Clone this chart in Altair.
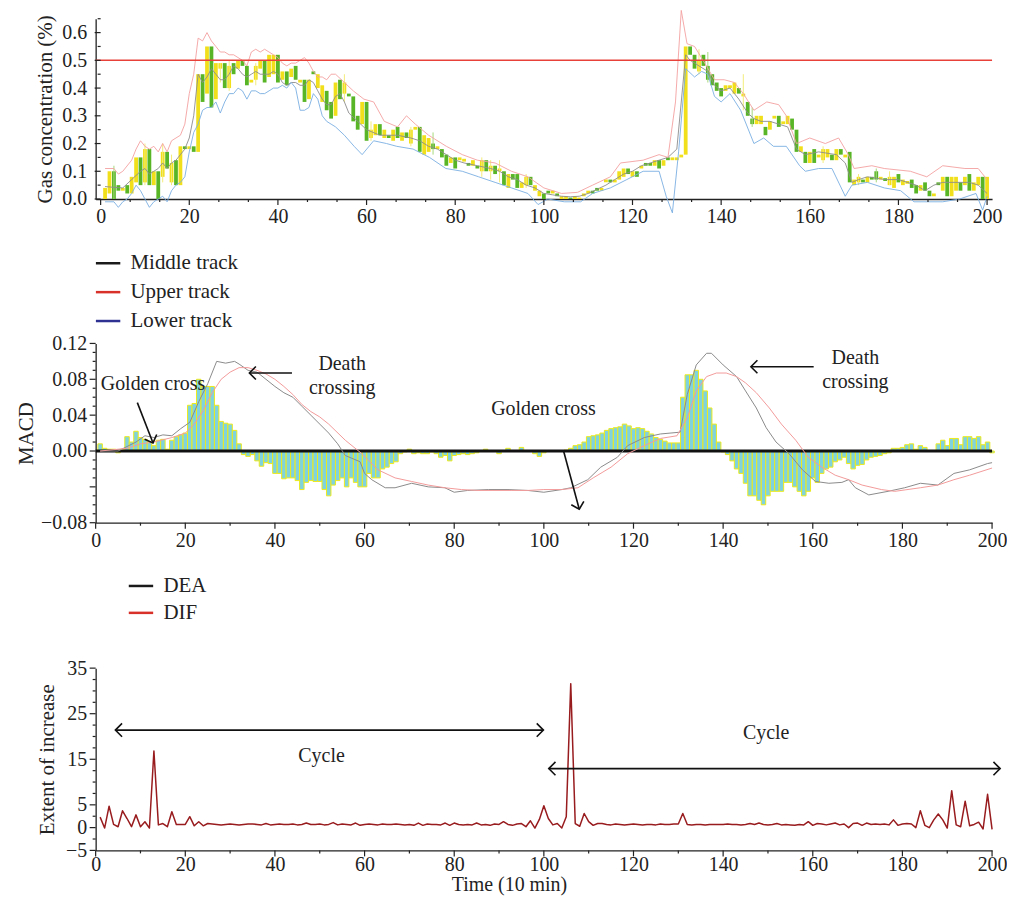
import altair as alt
import pandas as pd

FONT = "Liberation Serif"
FS = 20

# ---------------- Panel 1 : candles + Bollinger tracks ----------------
candle_lo = [0.0,0.02,0.0,0.03,0.03,0.02,0.02,0.06,0.05,0.06,
             0.05,0.05,0.0,0.08,0.11,0.06,0.05,0.05,0.18,0.18,
             0.17,0.17,0.35,0.38,0.33,0.36,0.47,0.40,0.40,0.45,
             0.47,0.48,0.41,0.42,0.43,0.47,0.42,0.44,0.45,0.42,
             0.43,0.41,0.44,0.43,0.42,0.35,0.36,0.45,0.40,0.35,
             0.32,0.29,0.30,0.36,0.38,0.37,0.28,0.25,0.27,0.21,
             0.22,0.23,0.23,0.22,0.22,0.21,0.22,0.21,0.22,0.20,
             0.25,0.17,0.16,0.17,0.18,0.18,0.15,0.12,0.13,0.11,
             0.14,0.135,0.12,0.12,0.11,0.10,0.10,0.10,0.09,0.10,
             0.05,0.04,0.07,0.04,0.04,0.05,0.05,0.03,0.01,0.0,
             0.02,0.02,0.01,0.0,0.0,0.0,0.0,0.0,0.01,0.02,
             0.02,0.03,0.03,0.06,0.06,0.06,0.07,0.08,0.09,0.08,
             0.08,0.11,0.12,0.12,0.12,0.11,0.12,0.14,0.14,0.14,
             0.15,0.16,0.52,0.47,0.46,0.48,0.43,0.41,0.39,0.37,
             0.39,0.40,0.38,0.38,0.37,0.30,0.27,0.27,0.27,0.23,
             0.25,0.29,0.26,0.27,0.27,0.25,0.17,0.17,0.13,0.13,
             0.13,0.15,0.14,0.15,0.14,0.14,0.16,0.15,0.06,0.05,
             0.06,0.06,0.06,0.07,0.07,0.07,0.065,0.05,0.04,0.06,
             0.05,0.055,0.04,0.02,0.03,0.03,0.01,0.01,0.05,0.03,
             0.01,0.01,0.03,0.03,0.05,0.03,0.03,0.05,0.0,0.0]
candle_hi = [0.04,0.10,0.10,0.05,0.04,0.05,0.08,0.15,0.15,0.18,
             0.18,0.10,0.10,0.17,0.17,0.13,0.14,0.19,0.19,0.19,
             0.19,0.45,0.45,0.55,0.55,0.49,0.49,0.49,0.48,0.49,
             0.50,0.50,0.48,0.43,0.48,0.50,0.50,0.52,0.52,0.52,
             0.46,0.46,0.47,0.48,0.43,0.43,0.43,0.46,0.45,0.41,
             0.39,0.35,0.42,0.43,0.42,0.38,0.37,0.30,0.35,0.35,
             0.25,0.27,0.27,0.25,0.23,0.25,0.26,0.24,0.24,0.25,
             0.26,0.26,0.23,0.22,0.20,0.19,0.18,0.16,0.15,0.15,
             0.15,0.145,0.13,0.14,0.12,0.14,0.14,0.12,0.12,0.11,
             0.10,0.09,0.09,0.09,0.06,0.08,0.08,0.05,0.03,0.02,
             0.03,0.03,0.02,0.01,0.01,0.005,0.01,0.005,0.02,0.03,
             0.03,0.04,0.04,0.07,0.07,0.07,0.10,0.11,0.11,0.10,
             0.10,0.12,0.13,0.13,0.14,0.14,0.14,0.15,0.15,0.15,
             0.16,0.55,0.55,0.52,0.50,0.52,0.48,0.45,0.42,0.40,
             0.41,0.41,0.42,0.40,0.38,0.35,0.29,0.30,0.30,0.26,
             0.28,0.30,0.30,0.28,0.30,0.29,0.25,0.19,0.17,0.17,
             0.18,0.16,0.18,0.18,0.16,0.18,0.18,0.16,0.17,0.07,
             0.08,0.07,0.08,0.08,0.10,0.08,0.075,0.08,0.08,0.09,
             0.07,0.065,0.07,0.05,0.05,0.06,0.03,0.02,0.06,0.08,
             0.08,0.08,0.08,0.06,0.08,0.09,0.06,0.08,0.08,0.08]
candle_dir = ("YYGGYGYYGY" "GYGYGYGYGY" "GYGYGYYGYG" "YGGYYYGYYG" "YGYGYGYGYY"
              "GGYGYGGGYG" "YYGYGYGYGY" "YGYYGYGGYG" "YYGYGYGYGY" "GYGGYYGYYG"
              "GYGYYGYYYY" "GGYYGYYYGY" "GYGGYGYGYY" "YYGGYGGGGG" "YYYGYGGYYG"
              "YYGYYGGYGY" "GYYYGYGYGY" "YGYGGYGYYG" "YYGGYGGYGY" "GYYGYGYYGY")
wick_t = [3, 10, 14, 16, 27, 29, 35, 55, 61, 70, 75, 86, 88, 90, 96, 135, 137, 145, 147, 163, 171, 175, 178]
wick_lo = [0.0, 0.05, 0.06, 0.05, 0.42, 0.39, 0.41, 0.35, 0.21, 0.19, 0.16, 0.08, 0.07, 0.06, 0.04, 0.45, 0.42, 0.32, 0.26, 0.13, 0.05, 0.06, 0.05]
wick_hi = [0.12, 0.20, 0.20, 0.16, 0.49, 0.50, 0.49, 0.45, 0.28, 0.26, 0.24, 0.15, 0.14, 0.14, 0.09, 0.54, 0.53, 0.45, 0.33, 0.19, 0.09, 0.11, 0.10]

mid_t = [1,3,5,7,9,10,11,12,13,14,15,16,17,18,19,20,21,22,23,24,25,26,27,28,29,30,31,32,33,34,35,36,37,38,39,40,
         41,42,43,44,45,46,47,48,49,50,51,52,53,54,55,56,58,60,63,67,70,72,74,76,78,80,82,85,88,90,92,94,96,98,100,
         102,104,106,108,110,112,114,116,118,120,122,124,126,128,130,132,133,135,137,138.5,140,142,144,146,147.4,149,
         151,153,155,157,159,162,166,168,169.5,171,173,175,177,180,182,184,186,188,190,193,196,198,200]
mid_v = [0.045,0.042,0.04,0.07,0.10,0.11,0.09,0.10,0.11,0.13,0.11,0.13,0.14,0.16,0.18,0.22,0.30,0.45,0.42,0.44,0.47,
         0.45,0.43,0.43,0.45,0.48,0.47,0.45,0.44,0.45,0.46,0.45,0.45,0.45,0.46,0.45,0.42,0.41,0.42,0.42,0.41,0.41,0.43,
         0.42,0.39,0.36,0.34,0.34,0.37,0.38,0.35,0.31,0.28,0.25,0.23,0.23,0.22,0.21,0.19,0.18,0.16,0.14,0.13,0.12,0.11,
         0.10,0.08,0.07,0.05,0.04,0.02,0.015,0.01,0.008,0.01,0.02,0.035,0.05,0.07,0.09,0.10,0.12,0.13,0.14,0.15,0.18,
         0.52,0.50,0.48,0.46,0.41,0.39,0.40,0.36,0.31,0.29,0.28,0.28,0.27,0.26,0.18,0.16,0.17,0.16,0.13,0.06,0.07,0.08,
         0.075,0.07,0.07,0.06,0.05,0.03,0.05,0.06,0.06,0.06,0.05,0.02]
up_t = [1,3,4,5,7,8,9,10,11,12,13,14,15,16,17,18,19,20,21,22,23,24,25,26,27,28,29,30,31,32,33,34,35,36,37,38,39,40,
        41,42,43,44,45,46,47,48,49,50,51,52,53,55,57,59.4,61.6,64,67,69,71,74,78,81.6,85,89,92.7,96.4,100,104,107.6,
        111,115,117.3,122.4,126,128,129.7,131,132.3,134,136.3,138.5,140.7,143,145,147.4,150.3,153,154.7,157,160,163.5,
        166.5,168.7,170,174,176.8,182.7,186.4,190,195,198,200]
up_v = [0.11,0.11,0.09,0.10,0.14,0.18,0.21,0.19,0.18,0.19,0.17,0.20,0.17,0.21,0.22,0.23,0.27,0.38,0.45,0.58,0.57,0.60,
        0.57,0.55,0.53,0.53,0.52,0.52,0.51,0.50,0.48,0.53,0.54,0.53,0.54,0.53,0.52,0.51,0.49,0.48,0.49,0.49,0.50,0.51,
        0.49,0.46,0.44,0.44,0.43,0.45,0.45,0.42,0.39,0.36,0.35,0.28,0.26,0.30,0.27,0.23,0.19,0.16,0.14,0.13,0.10,0.08,
        0.04,0.02,0.024,0.05,0.08,0.13,0.14,0.16,0.15,0.35,0.68,0.56,0.55,0.49,0.43,0.43,0.42,0.38,0.32,0.35,0.34,0.30,
        0.20,0.22,0.20,0.22,0.16,0.11,0.12,0.11,0.10,0.08,0.12,0.11,0.11,0.07]
lo_t = [1,3,4,5,6,7,8,9,10,11,12,13,14,15,16,17,18,19,20,21,22,23,24,25,26,27,28,29,30,31,32,33,34,35,36,37,38,39,40,
        41,42,43,44,45,46,47,48,49,50,51,52,53,55,57.2,59,61.6,64.5,66.8,70.5,74.2,77.9,81.6,85.3,89,92.7,96.4,98.7,
        100.9,104.6,108.3,111,115,118.7,122.4,126,127.6,129,130.4,132,134,135.6,137,138.5,140,142,144.4,147.4,149.6,
        151.8,154.7,157.7,159,162,165,168,169.5,173,176.8,180.5,183.5,186.4,190,193.8,197.5,199,200]
lo_v = [-0.01,-0.01,-0.03,-0.01,0.0,0.02,0.05,0.03,0.0,-0.03,-0.01,0.0,0.01,-0.01,0.03,0.05,0.06,0.08,0.17,0.24,0.27,
        0.32,0.33,0.33,0.35,0.31,0.35,0.38,0.38,0.40,0.39,0.36,0.39,0.39,0.38,0.38,0.39,0.40,0.40,0.41,0.40,0.42,0.40,
        0.32,0.32,0.33,0.38,0.36,0.30,0.28,0.27,0.26,0.23,0.19,0.16,0.21,0.20,0.19,0.18,0.15,0.11,0.10,0.08,0.06,0.04,
        0.02,-0.02,0.0,-0.01,-0.01,0.02,0.04,0.07,0.10,0.10,0.01,-0.05,0.17,0.47,0.44,0.46,0.45,0.37,0.35,0.38,0.32,
        0.20,0.22,0.19,0.19,0.12,0.10,0.11,0.11,0.01,0.05,0.06,0.04,0.03,-0.01,-0.01,-0.01,0.0,0.02,-0.04,0.01]
threshold = 0.5

# ---------------- Panel 2 : MACD ----------------
macd_bar = [0.008,0.003,0.002,0.002,-0.002,0.002,0.016,0.010,0.022,0.015,0.013,0.010,0.006,0.012,0.013,0.002,0.012,0.016,0.018,0.020,
            0.051,0.053,0.080,0.072,0.072,0.072,0.051,0.033,0.031,0.030,0.023,0.008,-0.004,-0.006,-0.004,-0.011,-0.017,-0.013,-0.014,-0.025,
            -0.025,-0.031,-0.030,-0.030,-0.033,-0.043,-0.035,-0.033,-0.034,-0.034,-0.043,-0.050,-0.038,-0.033,-0.030,-0.040,-0.030,-0.035,-0.040,-0.040,
            -0.025,-0.030,-0.030,-0.020,-0.018,-0.014,-0.012,-0.003,-0.001,0.002,-0.003,-0.002,-0.003,-0.003,-0.001,-0.003,-0.007,-0.005,-0.011,-0.005,
            -0.004,-0.003,-0.004,-0.003,-0.002,0.0005,0.002,0.0005,-0.0005,-0.003,0.0005,0.003,0.0005,-0.0005,0.004,0.0005,-0.0005,-0.003,-0.006,-0.002,
            0.0005,0.0005,0.0005,0.0005,0.001,0.003,0.006,0.007,0.010,0.016,0.017,0.018,0.020,0.023,0.025,0.026,0.027,0.030,0.028,0.025,
            0.026,0.025,0.022,0.019,0.015,0.013,0.011,0.009,0.009,0.009,0.060,0.085,0.085,0.090,0.080,0.067,0.048,0.030,0.010,-0.001,
            -0.004,-0.011,-0.020,-0.025,-0.036,-0.050,-0.050,-0.055,-0.060,-0.050,-0.045,-0.045,-0.045,-0.035,-0.035,-0.040,-0.045,-0.050,-0.045,-0.030,
            -0.035,-0.025,-0.020,-0.018,-0.012,-0.010,-0.007,-0.014,-0.020,-0.016,-0.015,-0.010,-0.007,-0.006,-0.005,-0.003,-0.002,0.003,0.003,0.004,
            0.007,0.008,0.002,0.006,0.004,0.0005,0.0005,0.008,0.012,0.006,0.014,0.014,0.007,0.016,0.016,0.014,0.016,0.007,0.010,-0.002]
dea_t = [1,5,7,9,11,13,15,17,19,21,23,25,27,29,31,32,34,36,38,40,42,44,46,48,50,52,54,55.7,59,60,61.6,64.6,66.8,70.5,
         74.2,77.9,80,83,87.6,92,96.4,100,104,106,109.8,112.7,116.4,118.7,122.4,126,130.4,132,134,136.3,137.4,140,143,145,
         147.4,149.6,151.8,154.7,157.7,160.6,163.6,166.5,168,169.5,172.5,176.8,180.5,184,187.9,191.5,195,199,200]
dea_v = [0.0,0.0,0.005,0.010,0.017,0.015,0.018,0.017,0.025,0.032,0.055,0.075,0.100,0.098,0.100,0.097,0.090,0.088,0.080,
         0.072,0.065,0.060,0.050,0.040,0.030,0.020,0.008,-0.005,-0.012,-0.025,-0.032,-0.041,-0.041,-0.036,-0.040,-0.041,
         -0.046,-0.044,-0.043,-0.043,-0.044,-0.046,-0.043,-0.041,-0.032,-0.018,-0.007,0.006,0.015,0.019,0.021,0.063,0.096,
         0.109,0.109,0.096,0.083,0.067,0.048,0.026,0.010,-0.003,-0.021,-0.034,-0.036,-0.035,-0.032,-0.041,-0.049,-0.045,
         -0.041,-0.036,-0.038,-0.025,-0.021,-0.014,-0.013]
dif_t = [1,7,10,13,17,20,22,24,26,28,30,32,34,36,38,40,42,44,46,48,50,52,55.7,59.4,63,66.8,70.5,74.2,77.9,81.6,85.3,
         92.7,96.4,100,104,107.6,111,115,118.7,122.4,126,129.7,132,134,136.3,138.5,140.7,143,145,147.4,150.3,153,156.2,
         159,162,165,168,171,175.3,178.3,184,187.9,191.5,195,200]
dif_v = [0.0,0.003,0.008,0.010,0.015,0.020,0.030,0.045,0.065,0.080,0.088,0.093,0.093,0.090,0.086,0.080,0.072,0.063,
         0.052,0.044,0.038,0.030,0.012,-0.003,-0.021,-0.030,-0.034,-0.038,-0.041,-0.043,-0.044,-0.044,-0.044,-0.043,
         -0.043,-0.041,-0.030,-0.018,-0.003,0.006,0.014,0.017,0.037,0.067,0.083,0.087,0.087,0.083,0.076,0.065,0.048,
         0.030,0.012,-0.007,-0.018,-0.027,-0.032,-0.038,-0.043,-0.045,-0.041,-0.038,-0.032,-0.027,-0.019]

# ---------------- Panel 3 : extent of increase ----------------
extent = [2.3,-0.1,4.7,0.7,0.2,3.7,2.0,0.2,2.8,0.2,1.3,-0.1,16.8,0.6,0.9,0.2,3.5,0.7,0.7,0.7,
          2.4,0.4,1.3,0.4,0.9,0.8,0.7,0.6,0.7,0.8,0.7,0.6,0.7,0.8,0.8,0.7,0.6,0.9,0.6,0.7,
          0.8,0.7,0.7,0.8,0.6,0.7,1.0,0.7,0.7,0.8,0.6,0.7,1.1,0.6,0.8,0.7,0.6,1.0,0.5,0.7,
          0.8,0.7,0.6,0.8,0.7,0.7,0.8,0.7,0.6,0.7,0.5,1.0,0.5,0.8,0.7,0.7,0.6,1.0,0.5,1.0,
          0.7,0.6,0.7,0.6,1.0,0.6,0.7,0.5,0.8,0.7,1.3,0.7,0.5,0.8,0.9,0.2,1.5,-0.1,1.8,4.8,
          2.0,0.6,0.9,-0.1,2.4,31.6,0.9,0.3,3.1,1.3,0.5,0.9,0.9,0.7,0.6,0.8,0.7,0.6,0.7,0.8,
          0.7,0.6,0.7,0.7,0.6,0.8,0.7,0.7,0.8,0.8,3.1,0.7,0.6,0.7,0.7,0.6,0.7,0.7,0.7,0.7,
          0.8,0.7,0.7,0.6,0.7,0.9,0.7,1.0,0.7,0.6,0.7,0.9,0.6,0.7,0.6,0.5,0.7,0.6,1.3,0.5,
          0.9,0.8,0.6,0.8,1.0,0.6,0.8,0.0,0.9,1.0,0.5,1.0,0.7,0.8,0.7,0.8,0.6,1.7,0.5,0.8,
          0.9,0.8,0.0,3.7,0.5,0.0,1.7,3.0,1.7,-0.1,8.1,0.6,0.2,5.8,0.4,0.7,1.2,-0.3,7.3,-0.4]

# annotations (data coordinates)
ann_text = ["Golden cross", "Death", "crossing", "Golden cross", "Death", "crossing"]
ann_x = [12.8, 55.0, 55.0, 99.9, 169.5, 169.5]
ann_y = [0.0744, 0.0967, 0.070, 0.0467, 0.104, 0.0767]
arr_x1 = [9.3, 43.8, 104.4, 160.2]
arr_y1 = [0.054, 0.087, 0.0, 0.094]
arr_x2 = [12.8, 34.3, 107.9, 146.2]
arr_y2 = [0.009, 0.087, -0.065, 0.094]
arr_ang = [68.7, 180, 74.9, 180]

cyc_x1 = [4.4, 101.1]
cyc_x2 = [99.9, 201.8]
cyc_y = [21.4, 12.95]
cyc_label_x = [50.4, 149.6]
cyc_label_y = [15.7, 20.8]

# axis tick positions
x_labels = [0, 20, 40, 60, 80, 100, 120, 140, 160, 180, 200]
x_minor_top = [round(i * 20 / 3, 4) for i in range(31) if i % 3 != 0]
x_minor = [10, 30, 50, 70, 90, 110, 130, 150, 170, 190]
y1_labels = [0.0, 0.1, 0.2, 0.3, 0.4, 0.5, 0.6]
y1_minor = [0.05, 0.15, 0.25, 0.35, 0.45, 0.55, 0.65]
y2_labels = [-0.08, 0.0, 0.04, 0.08, 0.12]
y2_major = [-0.08, -0.04, 0.0, 0.04, 0.08, 0.12]
y2_minor = [-0.07, -0.06, -0.05, -0.03, -0.02, -0.01, 0.01, 0.02, 0.03, 0.05, 0.06, 0.07, 0.09, 0.10, 0.11]
y3_labels = [-5, 0, 5, 15, 25, 35]
y3_minor = [-2.5, 2.5, 7.5, 10, 12.5, 17.5, 20, 22.5, 27.5, 30, 32.5]

# ------------------------------------------------------------------
CHEV = "M-1,-1L0,0L-1,1"
AX = "#222"
W = 900
xs = alt.Scale(domain=[0, 200], nice=False, zero=False)


def x_axis(title=None, **kw):
    args = dict(values=x_labels, ticks=False, grid=False, domainColor=AX, domainWidth=1.3,
                labelFont=FONT, labelFontSize=FS, labelColor=AX, labelPadding=8,
                titleFont=FONT, titleFontSize=FS, titleFontWeight="normal", titleColor=AX,
                labelOverlap=False, labelFlush=False, labelSeparation=0, title=title)
    args.update(kw)
    return alt.Axis(**args)


def y_axis(vals, fmt, title, **kw):
    return alt.Axis(values=vals, format=fmt, ticks=False, grid=False, domainColor=AX, domainWidth=1.3,
                    labelFont=FONT, labelFontSize=FS, labelColor=AX, labelPadding=9,
                    titleFont=FONT, titleFontSize=FS + 1, titleFontWeight="normal", titleColor=AX,
                    labelOverlap=False, labelFlush=False, labelSeparation=0, title=title, **kw)


def line_df(tt, vv, name):
    n = min(len(tt), len(vv))
    return pd.DataFrame({"t": tt[:n], "v": vv[:n], "name": name})


LEG = dict(title=None, orient="none", legendX=-1, direction="vertical", symbolType="stroke",
           symbolSize=600, symbolStrokeWidth=2.5, symbolOpacity=1, labelFont=FONT,
           labelFontSize=FS + 1, labelColor=AX, labelOffset=9)


class Panel:
    """Holds the shared scales and axes of one panel so that every layer uses identical axes."""

    def __init__(self, ys, xaxis, yaxis):
        self.ys, self.xaxis, self.yaxis = ys, xaxis, yaxis

    def X(self, field):
        return alt.X(field, scale=xs, axis=self.xaxis)

    def Y(self, field):
        return alt.Y(field, scale=self.ys, axis=self.yaxis)

    def ticks(self, y0, xmajor, xminor, ymajor, yminor):
        out = []
        for pos, size in ((xmajor, 6), (xminor, 3)):
            d = pd.DataFrame({"p": pos, "b": y0})
            out.append(alt.Chart(d).mark_tick(orient="vertical", size=size, thickness=1.2, color=AX,
                                              yOffset=size / 2, opacity=1).encode(
                x=self.X("p:Q"), y=self.Y("b:Q")))
        for pos, size in ((ymajor, 6), (yminor, 3)):
            d = pd.DataFrame({"p": pos, "b": 0})
            out.append(alt.Chart(d).mark_tick(orient="horizontal", size=size, thickness=1.2, color=AX,
                                              xOffset=-size / 2, opacity=1).encode(
                y=self.Y("p:Q"), x=self.X("b:Q")))
        return out


# ---------------- top panel ----------------
P1 = Panel(alt.Scale(domain=[0, 0.65], nice=False, zero=False), x_axis(),
           y_axis(y1_labels, ".1f", "Gas concentration (%)", titlePadding=6))
nc = min(len(candle_lo), len(candle_hi), len(candle_dir))
candles = pd.DataFrame({"t": list(range(1, nc + 1)), "lo": candle_lo[:nc], "hi": candle_hi[:nc],
                        "dir": list(candle_dir[:nc])})
candles["col"] = candles["dir"].map({"Y": "#f0df1a", "G": "#58b526"})
wicks = pd.DataFrame({"t": wick_t, "wlo": wick_lo, "whi": wick_hi})
wicks["col"] = [("#f3eb7a" if candle_dir[tt - 1] == "Y" else "#a5d97c") for tt in wick_t]

base1 = alt.Chart(candles).mark_bar(width=3.8).encode(
    x=P1.X("t:Q"), y=P1.Y("lo:Q"), y2="hi:Q", color=alt.Color("col:N", scale=None))
wick_layer = alt.Chart(wicks).mark_rule(strokeWidth=1).encode(
    x=P1.X("t:Q"), y=P1.Y("wlo:Q"), y2="whi:Q", color=alt.Color("col:N", scale=None))
tracks = pd.concat([line_df(mid_t, mid_v, "Middle track"), line_df(up_t, up_v, "Upper track"),
                    line_df(lo_t, lo_v, "Lower track")])
track_lines = alt.Chart(tracks).mark_line(strokeWidth=1, opacity=0.9, strokeJoin="round").encode(
    x=P1.X("t:Q"), y=P1.Y("v:Q"), detail="name:N",
    color=alt.Color("name:N", scale=alt.Scale(domain=["Middle track", "Upper track", "Lower track"],
                                              range=["#8c8c8c", "#f4a0a0", "#7aaee2"]), legend=None),
)
track_legend = alt.Chart(tracks).mark_line(strokeWidth=2, opacity=0, strokeJoin="round").encode(
    x=P1.X("t:Q"), y=P1.Y("v:Q"),
    stroke=alt.Stroke("name:N", scale=alt.Scale(domain=["Middle track", "Upper track", "Lower track"],
                                                range=["#1a1a1a", "#d8312a", "#2e3192"]),
                      legend=alt.Legend(legendY=232, rowPadding=5, padding=0, **LEG)),
)
thr = alt.Chart(pd.DataFrame({"thr": [threshold]})).mark_rule(color="#e8413a", strokeWidth=1.5).encode(
    y=P1.Y("thr:Q"))
panel1 = alt.layer(base1, wick_layer, track_lines, thr, track_legend,
                   *P1.ticks(0.0, x_labels, x_minor_top, y1_labels, y1_minor)).resolve_scale(
    color="independent", stroke="independent").properties(width=W, height=181)

# ---------------- MACD panel ----------------
P2 = Panel(alt.Scale(domain=[-0.08, 0.12], nice=False, zero=False), x_axis(),
           y_axis(y2_labels, ".2f", "MACD", titlePadding=4))
bars = pd.DataFrame({"t": list(range(1, len(macd_bar) + 1)), "m": macd_bar})
bar_layer = alt.Chart(bars).transform_calculate(a="datum.t - 0.5", b="datum.t + 0.5").mark_bar(
    fill="#7fd3dc", stroke="#eeea1c", strokeWidth=1).encode(
    x=P2.X("a:Q"), x2="b:Q", y=P2.Y("m:Q"), y2=alt.Y2(datum=0))
zero = alt.Chart(pd.DataFrame({"z": [0.0]})).mark_rule(color="#111", strokeWidth=3).encode(
    y=P2.Y("z:Q"))
macd_lines_df = pd.concat([line_df(dea_t, dea_v, "DEA"), line_df(dif_t, dif_v, "DIF")])
macd_lines = alt.Chart(macd_lines_df).mark_line(strokeWidth=1, strokeJoin="round").encode(
    x=P2.X("t:Q"), y=P2.Y("v:Q"), detail="name:N",
    color=alt.Color("name:N", scale=alt.Scale(domain=["DEA", "DIF"], range=["#8a8a8a", "#f39a9a"]), legend=None),
)
macd_legend = alt.Chart(macd_lines_df).mark_line(strokeWidth=2, opacity=0, strokeJoin="round").encode(
    x=P2.X("t:Q"), y=P2.Y("v:Q"),
    stroke=alt.Stroke("name:N", scale=alt.Scale(domain=["DEA", "DIF"], range=["#1a1a1a", "#d8312a"]),
                      legend=alt.Legend(legendY=230 - 33, rowPadding=3, padding=33, **LEG)),
)
ann = pd.DataFrame({"x": ann_x, "y": ann_y, "txt": ann_text})
ann_layer = alt.Chart(ann).mark_text(font=FONT, fontSize=FS, color=AX, align="center",
                                     baseline="middle").encode(
    x=P2.X("x:Q"), y=P2.Y("y:Q"), text="txt:N")
arrows = pd.DataFrame({"x1": arr_x1, "y1": arr_y1, "x2": arr_x2, "y2": arr_y2, "ang": arr_ang})
arr_lines = alt.Chart(arrows).mark_rule(color="#111", strokeWidth=1.6).encode(
    x=P2.X("x1:Q"), y=P2.Y("y1:Q"), x2="x2:Q", y2="y2:Q")
arr_heads = alt.Chart(arrows).mark_point(shape=CHEV, size=170, filled=False, color="#111",
                                         strokeWidth=1.6, opacity=1).encode(
    x=P2.X("x2:Q"), y=P2.Y("y2:Q"), angle=alt.Angle("ang:Q", scale=None))
panel2 = alt.layer(bar_layer, zero, macd_lines, ann_layer, arr_lines, arr_heads, macd_legend,
                   *P2.ticks(-0.08, x_labels, x_minor, y2_major, y2_minor)).resolve_scale(
    color="independent", stroke="independent").properties(width=W, height=180)

# ---------------- bottom panel ----------------
P3 = Panel(alt.Scale(domain=[-5, 35], nice=False, zero=False),
           x_axis("Time (10 min)", titlePadding=0, titleX=415, labelPadding=4),
           y_axis(y3_labels, "d", "Extent of increase", titlePadding=8))
ext = pd.DataFrame({"t": list(range(1, len(extent) + 1)), "e": extent})
ext_line = alt.Chart(ext).mark_line(color="#981b1e", strokeWidth=1.5, strokeJoin="round").encode(
    x=P3.X("t:Q"), y=P3.Y("e:Q"))
cyc = pd.DataFrame({"x1": cyc_x1, "x2": cyc_x2, "y": cyc_y})
cyc_rule = alt.Chart(cyc).mark_rule(color="#111", strokeWidth=1.6).encode(
    x=P3.X("x1:Q"), x2="x2:Q", y=P3.Y("y:Q"))
heads = pd.DataFrame({"x": cyc_x1 + cyc_x2, "y": cyc_y + cyc_y, "ang": [180, 180, 0, 0]})
cyc_heads = alt.Chart(heads).mark_point(shape=CHEV, size=180, filled=False, color="#111",
                                        strokeWidth=1.6, opacity=1).encode(
    x=P3.X("x:Q"), y=P3.Y("y:Q"), angle=alt.Angle("ang:Q", scale=None))
cyc_txt = alt.Chart(pd.DataFrame({"x": cyc_label_x, "y": cyc_label_y, "txt": ["Cycle", "Cycle"]})).mark_text(
    font=FONT, fontSize=FS, color=AX, align="center", baseline="middle").encode(
    x=P3.X("x:Q"), y=P3.Y("y:Q"), text="txt:N")
panel3 = alt.layer(ext_line, cyc_rule, cyc_heads, cyc_txt,
                   *P3.ticks(-5, x_labels, x_minor, y3_labels, y3_minor)).properties(
    width=W, height=183)

chart = alt.vconcat(panel1, panel2, panel3, spacing=2).properties(
    padding={"left": 7, "top": 0, "right": 0, "bottom": 0}
).configure_axis(labelOverlap=False).configure_view(stroke=None)

chart.save("out.html", embed_options={"renderer": "svg", "actions": False})
